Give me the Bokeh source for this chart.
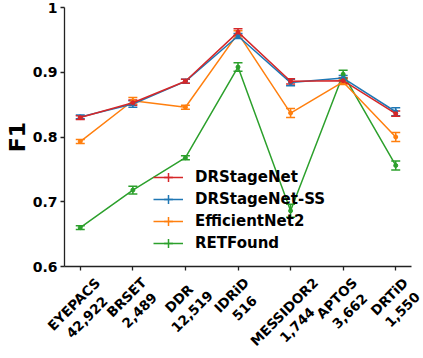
import numpy as np
from bokeh.plotting import figure
from bokeh.core.properties import value
from bokeh.models import (ColumnDataSource, Range1d, FixedTicker, Whisker, TeeHead,
                          Legend, LegendItem)
from bokeh.embed import file_html
from bokeh.resources import INLINE

datasets = ["EYEPACS", "BRSET", "DDR", "IDRiD", "MESSIDOR2", "APTOS", "DRTiD"]
sizes = ["42,922", "2,489", "12,519", "516", "1,744", "3,662", "1,550"]

models = ["DRStageNet", "DRStageNet-SS", "EfficientNet2", "RETFound"]
colors = ["#d62728", "#1f77b4", "#ff7f0e", "#2ca02c"]

drstagenet = [0.830, 0.853, 0.886, 0.962, 0.886, 0.887, 0.836]
drstagenet_err = [0.003, 0.004, 0.003, 0.005, 0.004, 0.004, 0.004]
drstagenet_ss = [0.831, 0.851, 0.886, 0.956, 0.884, 0.891, 0.839]
drstagenet_ss_err = [0.003, 0.005, 0.003, 0.004, 0.005, 0.004, 0.006]
efficientnet2 = [0.793, 0.856, 0.846, 0.960, 0.837, 0.885, 0.800]
efficientnet2_err = [0.003, 0.005, 0.003, 0.004, 0.007, 0.004, 0.007]
retfound = [0.660, 0.718, 0.768, 0.908, 0.686, 0.897, 0.756]
retfound_err = [0.003, 0.006, 0.003, 0.0065, 0.010, 0.006, 0.007]

y_ticks = [0.6, 0.7, 0.8, 0.9, 1.0]
y_labels = ["0.6", "0.7", "0.8", "0.9", "1"]

series = [(drstagenet, drstagenet_err), (drstagenet_ss, drstagenet_ss_err),
          (efficientnet2, efficientnet2_err), (retfound, retfound_err)]

FONT = "DejaVu Sans"
x = list(range(len(datasets)))

W = 423
H1 = 274
BL, BR = 64, 12
X0, X1 = -0.3, len(datasets) - 1 + 0.3

p = figure(width=W, height=H1, output_backend="svg", toolbar_location=None,
           x_range=Range1d(X0, X1), y_range=Range1d(0.6, 1.0),
           min_border_left=BL, min_border_right=BR, min_border_top=7, min_border_bottom=8)
p.outline_line_color = None
p.grid.visible = False

rends = {}
for i in reversed(range(len(models))):
    vals, errs = series[i]
    src = ColumnDataSource(dict(x=x, y=vals,
                                upper=[v + e for v, e in zip(vals, errs)],
                                lower=[v - e for v, e in zip(vals, errs)]))
    c = colors[i]
    ln = p.line("x", "y", source=src, line_color=c, line_width=1.5)
    w = Whisker(base="x", upper="upper", lower="lower", source=src,
                line_color=c, line_width=1.5,
                upper_head=TeeHead(size=9, line_color=c, line_width=1.5),
                lower_head=TeeHead(size=9, line_color=c, line_width=1.5))
    p.add_layout(w)
    dt = p.scatter("x", "y", source=src, size=4, fill_color=c, line_color=c)
    # small cross hidden under each point/error bar; gives the legend its error-bar glyph
    cr = p.scatter("x", "y", source=src, marker="cross", size=3, line_color=c,
                   line_width=1.5)
    rends[i] = (ln, cr)

items = [LegendItem(label=m, renderers=list(rends[i])) for i, m in enumerate(models)]
legend = Legend(items=items, location=(89, 12), background_fill_alpha=0,
                border_line_color=None, label_text_font=FONT,
                label_text_font_style="bold", label_text_font_size="15px",
                label_text_color="black",
                glyph_width=30, glyph_height=22, spacing=0, label_standoff=12,
                padding=4, margin=0)
p.add_layout(legend, "center")

p.xaxis.ticker = FixedTicker(ticks=x)
p.xaxis.major_label_overrides = {i: "" for i in x}
p.xaxis.major_label_text_font_size = "0px"
p.yaxis.ticker = FixedTicker(ticks=y_ticks)
p.yaxis.major_label_overrides = {t: l for t, l in zip(y_ticks, y_labels)}
p.yaxis.major_label_text_font_size = "14px"
p.yaxis.axis_label = "F1"
p.yaxis.axis_label_text_font_size = "22px"
p.yaxis.axis_label_text_font_style = "bold"
p.yaxis.axis_label_text_font = FONT
p.yaxis.axis_label_text_color = "black"
p.yaxis.axis_label_standoff = 0
for ax in (p.xaxis, p.yaxis):
    ax.major_label_text_font = FONT
    ax.major_label_text_font_style = "bold"
    ax.major_label_text_color = "black"
    ax.axis_line_color = "#222222"
    ax.axis_line_width = 1.3
    ax.major_tick_line_color = "#222222"
    ax.major_tick_line_width = 1.3
    ax.major_tick_out = 4
    ax.major_tick_in = 0
    ax.minor_tick_line_color = None
p.xaxis.major_label_standoff = 0
p.yaxis.major_label_standoff = 3

# separate strip (own root, so its frame spans the whole width) for the
# rotated, centred category labels, on the same x scale as the plot frame
H2 = 358 - H1
scale = (X1 - X0) / (W - BL - BR)
p2 = figure(width=W, height=H2, output_backend="svg", toolbar_location=None,
            x_range=Range1d(X0 - BL * scale, X1 + BR * scale), y_range=Range1d(-H2, 0),
            x_axis_type=None, y_axis_type=None,
            min_border_left=0, min_border_right=0, min_border_top=0, min_border_bottom=0)
p2.outline_line_color = None
p2.grid.visible = False

cw = {"A": .774, "B": .762, "C": .734, "D": .830, "E": .683, "F": .683, "I": .372,
      "M": .995, "O": .850, "P": .733, "R": .770, "S": .720, "T": .682, "Y": .724,
      "i": .343, ",": .380}
fs = 13.5
def text_w(s):
    return sum(cw.get(ch, .696) for ch in s) * fs
lab_text = [f"{d}\n{s}" for d, s in zip(datasets, sizes)]
lab_y = [-(1 + (max(text_w(d), text_w(s)) + 2 * 1.15 * fs) / (2 * np.sqrt(2)))
         for d, s in zip(datasets, sizes)]
p2.text(x=x, y=lab_y, text=lab_text, angle=np.pi / 4, text_align="center",
        text_baseline="middle", text_font=value(FONT), text_font_style="bold",
        text_font_size=value(f"{fs}px"), text_color="black", text_line_height=1.15)

open("out.html", "w").write(file_html([p, p2], INLINE))
